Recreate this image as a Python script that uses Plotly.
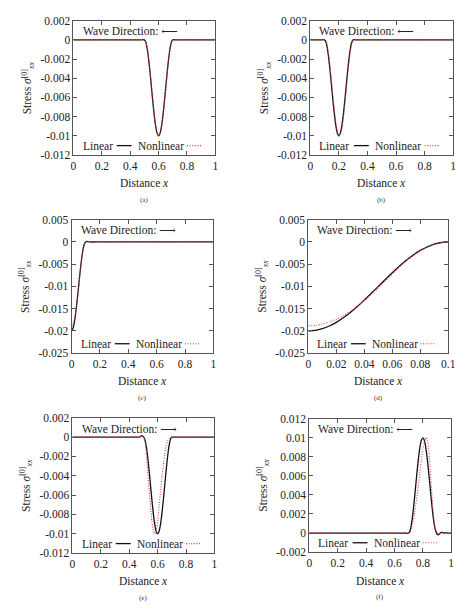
import plotly.graph_objects as go

# ---------------- data ----------------
# (a)
xa = [0, 0.1, 0.2, 0.3, 0.4, 0.47, 0.48, 0.49, 0.50, 0.51, 0.52, 0.53, 0.54, 0.55, 0.56, 0.57, 0.58, 0.59,
      0.60, 0.61, 0.62, 0.63, 0.64, 0.65, 0.66, 0.67, 0.68, 0.69, 0.70, 0.71, 0.72, 0.73, 0.8, 0.9, 1.0]
ya_lin = [0, 0, 0, 0, 0, 0, 0, 0.00003, 0, -0.00024, -0.00095, -0.00206, -0.00345, -0.005, -0.00655, -0.00794,
          -0.00905, -0.00976, -0.01, -0.00976, -0.00905, -0.00794, -0.00655, -0.005, -0.00345, -0.00206,
          -0.00095, -0.00024, 0, 0.00003, 0, 0, 0, 0, 0]
ya_non = [0, 0, 0, 0, 0, 0, 0, 0.00002, 0, -0.00022, -0.00092, -0.00203, -0.00342, -0.00497, -0.00652, -0.00792,
          -0.00903, -0.00975, -0.01, -0.00978, -0.00908, -0.00797, -0.00658, -0.00503, -0.00348, -0.00209,
          -0.00097, -0.00026, 0, 0.00002, 0, 0, 0, 0, 0]

# (b)
xb = [0, 0.05, 0.07, 0.08, 0.09, 0.10, 0.11, 0.12, 0.13, 0.14, 0.15, 0.16, 0.17, 0.18, 0.19, 0.20, 0.21, 0.22,
      0.23, 0.24, 0.25, 0.26, 0.27, 0.28, 0.29, 0.30, 0.31, 0.32, 0.33, 0.4, 0.5, 0.6, 0.7, 0.8, 0.9, 1.0]
yb_lin = [0, 0, 0, 0, 0.00003, 0, -0.00024, -0.00095, -0.00206, -0.00345, -0.005, -0.00655, -0.00794, -0.00905,
          -0.00976, -0.01, -0.00976, -0.00905, -0.00794, -0.00655, -0.005, -0.00345, -0.00206, -0.00095,
          -0.00024, 0, 0.00003, 0, 0, 0, 0, 0, 0, 0, 0, 0]
yb_non = [0, 0, 0, 0, 0.00002, 0, -0.00012, -0.0007, -0.0017, -0.003, -0.00453, -0.0061, -0.00755, -0.00875,
          -0.00959, -0.00998, -0.00988, -0.0093, -0.0083, -0.007, -0.00547, -0.0039, -0.00245, -0.00125,
          -0.00041, -0.00002, 0.00003, 0, 0, 0, 0, 0, 0, 0, 0, 0]

# (c)
xc = [0, 0.01, 0.02, 0.03, 0.04, 0.05, 0.06, 0.07, 0.08, 0.09, 0.10, 0.11, 0.12, 0.13, 0.2, 0.3, 0.4, 0.5,
      0.6, 0.7, 0.8, 0.9, 1.0]
yc_lin = [-0.02, -0.01951, -0.01809, -0.01588, -0.01309, -0.01, -0.00691, -0.00412, -0.00191, -0.00049, 0,
          0.00015, 0.00005, 0, 0, 0, 0, 0, 0, 0, 0, 0, 0]
yc_non = [-0.0189, -0.0185, -0.0174, -0.0156, -0.0132, -0.0104, -0.0072, -0.0043, -0.002, -0.0005, 0,
          0.00012, 0.00004, 0, 0, 0, 0, 0, 0, 0, 0, 0, 0]

# (d)
xd = [0, 0.005, 0.01, 0.015, 0.02, 0.025, 0.03, 0.035, 0.04, 0.045, 0.05, 0.055, 0.06, 0.065, 0.07, 0.075,
      0.08, 0.085, 0.09, 0.095, 0.1]
yd_lin = [-0.02, -0.01988, -0.01951, -0.01891, -0.01809, -0.01707, -0.01588, -0.01454, -0.01309, -0.01156,
          -0.01, -0.00844, -0.00691, -0.00546, -0.00412, -0.00293, -0.00191, -0.00109, -0.00049, -0.00012, 0]
yd_non = [-0.0189, -0.0188, -0.0185, -0.018, -0.0174, -0.0166, -0.0156, -0.0145, -0.0132, -0.0118,
          -0.0104, -0.0088, -0.0072, -0.0057, -0.0043, -0.0031, -0.002, -0.0011, -0.0005, -0.00013, 0]

# (e)
xe = [0, 0.1, 0.2, 0.3, 0.4, 0.46, 0.47, 0.48, 0.49, 0.50, 0.51, 0.52, 0.53, 0.54, 0.55, 0.56, 0.57, 0.58,
      0.59, 0.60, 0.61, 0.62, 0.63, 0.64, 0.65, 0.66, 0.67, 0.68, 0.69, 0.70, 0.71, 0.72, 0.8, 0.9, 1.0]
ye_lin = [0, 0, 0, 0, 0, 0, 0, 0.00008, 0.00016, 0.00004, -0.00024, -0.00095, -0.00206, -0.00345, -0.005,
          -0.00655, -0.00794, -0.00905, -0.00976, -0.01, -0.00976, -0.00905, -0.00794, -0.00655, -0.005,
          -0.00345, -0.00206, -0.00095, -0.00024, 0, 0, 0, 0, 0, 0]
ye_non = [0, 0, 0, 0, 0, 0, 0, 0.00002, 0.00004, 0, -0.0004, -0.0016, -0.0035, -0.0055, -0.0072, -0.0088,
          -0.0097, -0.01, -0.0097, -0.0087, -0.0072, -0.0057, -0.0042, -0.0029, -0.0018, -0.001, -0.0004,
          -0.00012, -0.00002, 0, 0, 0, 0, 0, 0]

# (f)
xf = [0, 0.1, 0.2, 0.3, 0.4, 0.5, 0.6, 0.66, 0.67, 0.68, 0.69, 0.70, 0.71, 0.72, 0.73, 0.74, 0.75, 0.76, 0.77,
      0.78, 0.79, 0.80, 0.81, 0.82, 0.83, 0.84, 0.85, 0.86, 0.87, 0.88, 0.89, 0.90, 0.91, 0.92, 0.93, 0.94,
      0.95, 0.96, 0.97, 0.98, 1.0]
yf_lin = [0, 0, 0, 0, 0, 0, 0, 0, 0, 0, -0.00003, 0, 0.00024, 0.00095, 0.00206, 0.00345, 0.005, 0.00655,
          0.00794, 0.00905, 0.00976, 0.01, 0.00976, 0.00905, 0.00794, 0.00655, 0.005, 0.00345, 0.00206,
          0.00095, 0.00024, -0.00012, -0.00018, -0.00004, 0.00008, 0.00004, 0, 0.00004, 0.00002, 0, 0]
yf_non = [0, 0, 0, 0, 0, 0, 0, 0, 0, 0, 0, 0, 0.0001, 0.0005, 0.0011, 0.0019, 0.0029, 0.004, 0.0052, 0.0065,
          0.0077, 0.0088, 0.0096, 0.01, 0.0099, 0.009, 0.0072, 0.0049, 0.0027, 0.0011, 0.0003, 0, 0, 0, 0,
          0, 0, 0, 0, 0, 0]

# tick labels
x_ticks = [0, 0.2, 0.4, 0.6, 0.8, 1]
x_labels = ["0", "0.2", "0.4", "0.6", "0.8", "1"]
xd_ticks = [0, 0.02, 0.04, 0.06, 0.08, 0.1]
xd_labels = ["0", "0.02", "0.04", "0.06", "0.08", "0.1"]
y1_ticks = [0.002, 0, -0.002, -0.004, -0.006, -0.008, -0.01, -0.012]
y1_labels = ["0.002", "0", "-0.002", "-0.004", "-0.006", "-0.008", "-0.01", "-0.012"]
y2_ticks = [0.005, 0, -0.005, -0.01, -0.015, -0.02, -0.025]
y2_labels = ["0.005", "0", "-0.005", "-0.01", "-0.015", "-0.02", "-0.025"]
y3_ticks = [0.012, 0.01, 0.008, 0.006, 0.004, 0.002, 0, -0.002]
y3_labels = ["0.012", "0.01", "0.008", "0.006", "0.004", "0.002", "0", "-0.002"]

captions = ["(a)", "(b)", "(c)", "(d)", "(e)", "(f)"]
directions = ["⟵", "⟵", "⟶", "⟶", "⟶", "⟵"]

W, H = 468, 612
FONT = "Liberation Serif"
ARROWFONT = "DejaVu Serif"
FS = 11.5
RED = "#e2404f"
BLACK = "#111111"
TXT = "#222222"

# panel pixel boxes: left, right, top, bottom
boxes = [(72, 217, 15, 152), (314, 460, 15, 152),
         (70, 215, 218, 354), (312, 455, 218, 354),
         (71, 216, 420, 558), (313, 458, 421, 557)]

panels = [
    (xa, ya_lin, ya_non, [0, 1], x_ticks, x_labels, [-0.012, 0.002], y1_ticks, y1_labels),
    (xb, yb_lin, yb_non, [0, 1], x_ticks, x_labels, [-0.012, 0.002], y1_ticks, y1_labels),
    (xc, yc_lin, yc_non, [0, 1], x_ticks, x_labels, [-0.025, 0.005], y2_ticks, y2_labels),
    (xd, yd_lin, yd_non, [0, 0.1], xd_ticks, xd_labels, [-0.025, 0.005], y2_ticks, y2_labels),
    (xe, ye_lin, ye_non, [0, 1], x_ticks, x_labels, [-0.012, 0.002], y1_ticks, y1_labels),
    (xf, yf_lin, yf_non, [0, 1], x_ticks, x_labels, [-0.002, 0.012], y3_ticks, y3_labels),
]

ital = '<span style="font-style:italic;font-size:%gpx">%s</span>'
small = '<span style="font-size:%gpx">%s</span>'

fig = go.Figure()
annotations = []
shapes = []

for i, (px, ylin, ynon, xr, xt, xl, yr, yt, yl) in enumerate(panels):
    n = i + 1
    sfx = "" if n == 1 else str(n)
    xref, yref = "x" + sfx, "y" + sfx
    fig.add_trace(go.Scatter(x=px, y=ylin, mode="lines", xaxis=xref, yaxis=yref,
                             line=dict(color=BLACK, width=1.3, shape="spline", smoothing=0.6),
                             showlegend=False))
    fig.add_trace(go.Scatter(x=px, y=ynon, mode="lines", xaxis=xref, yaxis=yref,
                             line=dict(color=RED, width=1.1, dash="1px,1.6px", shape="spline", smoothing=0.6),
                             showlegend=False))
    L, R, T, B = boxes[i]
    axcommon = dict(showgrid=False, zeroline=False, showline=True, linecolor="#555555", linewidth=1,
                    mirror="ticks", ticks="inside", ticklen=4, tickcolor="#555555", tickwidth=1,
                    tickfont=dict(family=FONT, size=FS, color=TXT))
    fig.layout["xaxis" + sfx] = dict(domain=[L / W, R / W], range=xr, tickvals=xt, ticktext=xl,
                                     anchor=yref, **axcommon)
    fig.layout["yaxis" + sfx] = dict(domain=[1 - B / H, 1 - T / H], range=yr, tickvals=yt, ticktext=yl,
                                     anchor=xref, **axcommon)
    xd_ref = xref + " domain"
    yd_ref = yref + " domain"
    # wave direction label
    annotations.append(dict(text="Wave Direction: <span style=\"font-family:'%s';font-size:%gpx\">%s</span>"
                                 % (ARROWFONT, FS, directions[i]),
                            xref=xd_ref, yref=yd_ref,
                            x=0.05, y=0.92, xanchor="left", yanchor="middle", showarrow=False,
                            font=dict(family=FONT, size=FS, color=TXT)))
    # legend (gnuplot style: text then sample)
    annotations.append(dict(text="Linear", xref=xd_ref, yref=yd_ref, x=0.05, y=0.068,
                            xanchor="left", yanchor="middle", showarrow=False,
                            font=dict(family=FONT, size=FS, color=TXT)))
    annotations.append(dict(text="Nonlinear", xref=xd_ref, yref=yd_ref, x=0.44, y=0.068,
                            xanchor="left", yanchor="middle", showarrow=False,
                            font=dict(family=FONT, size=FS, color=TXT)))
    shapes.append(dict(type="line", xref=xd_ref, yref=yd_ref, x0=0.305, x1=0.41, y0=0.07, y1=0.07,
                       line=dict(color=BLACK, width=1.3)))
    shapes.append(dict(type="line", xref=xd_ref, yref=yd_ref, x0=0.80, x1=0.905, y0=0.07, y1=0.07,
                       line=dict(color=RED, width=1.1, dash="1px,1.6px")))
    # axis titles
    annotations.append(dict(text="Distance " + ital % (FS, "x"), xref=xd_ref, yref="paper",
                            x=0.5, y=1 - (B + 29) / H, xanchor="center", yanchor="middle", showarrow=False,
                            font=dict(family=FONT, size=FS, color=TXT)))
    ytitle = ("Stress " + ital % (FS, "σ") + "<sup>" + small % (8, "[0]") + "</sup>"
              + "<sub>" + ital % (8, "xx") + "</sub>")
    annotations.append(dict(text=ytitle, xref="paper",
                            yref=yd_ref, x=(L - 47) / W, y=0.5, xanchor="center", yanchor="middle",
                            textangle=-90, showarrow=False,
                            font=dict(family=FONT, size=FS, color=TXT)))
    # caption
    annotations.append(dict(text=captions[i], xref=xd_ref, yref="paper",
                            x=0.5, y=1 - (B + 46) / H, xanchor="center", yanchor="middle", showarrow=False,
                            font=dict(family=FONT, size=7, color="#333333")))

fig.update_layout(width=W, height=H, margin=dict(l=0, r=0, t=0, b=0),
                  paper_bgcolor="white", plot_bgcolor="white",
                  font=dict(family=FONT),
                  annotations=annotations, shapes=shapes, showlegend=False)

fig.write_html("out.html")
